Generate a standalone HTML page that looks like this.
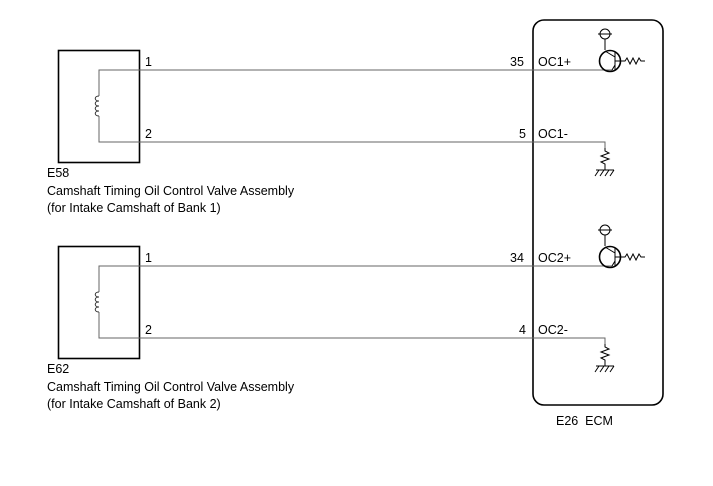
<!DOCTYPE html><html><head><style>body{margin:0;background:#fff}</style></head><body>
<svg width="713" height="481" xmlns="http://www.w3.org/2000/svg" font-family="Liberation Sans, sans-serif" font-size="12.5" fill="#000">
<rect x="533" y="20" width="130" height="385" rx="11" fill="none" stroke="#000" stroke-width="1.6"/>
<g id="g1">
<rect x="58.5" y="50.5" width="81" height="112" fill="none" stroke="#000" stroke-width="1.6"/>
<path d="M612 70H99V96M99 116V142H605V148" fill="none" stroke="#666" stroke-width="1"/>
<path d="M99 96c-5 0-5 5 0 5c-5 0-5 5 0 5c-5 0-5 5 0 5c-5 0-5 5 0 5" fill="none" stroke="#333" stroke-width="1"/>
<text x="145" y="66">1</text><text x="145" y="138">2</text>
<text x="510" y="66">35</text><text x="538" y="66">OC1+</text>
<text x="519" y="138">5</text><text x="538" y="138">OC1-</text>
<circle cx="605" cy="34" r="5" fill="none" stroke="#000"/><path d="M598 34H612M605 39V50" stroke="#000" fill="none"/>
<circle cx="610" cy="61" r="10.5" fill="none" stroke="#000" stroke-width="1.6"/>
<path d="M615 52V70M605 51L615 57M615 65L612 70M615 61H625l2-3 3 6 3-6 3 6 3-6 2 3h4" stroke="#000" fill="none"/>
<path d="M605 148v3l4 2-8 3 8 3-8 3 4 2v6M596 170h18M599 170l-4 6M604 170l-4 6M609 170l-4 6M614 170l-4 6" stroke="#000" fill="none"/>
<text x="47" y="177">E58</text>
<text x="47" y="195">Camshaft Timing Oil Control Valve Assembly</text>
<text x="47" y="212">(for Intake Camshaft of Bank 1)</text>
</g>
<g transform="translate(0,196)">
<rect x="58.5" y="50.5" width="81" height="112" fill="none" stroke="#000" stroke-width="1.6"/>
<path d="M612 70H99V96M99 116V142H605V148" fill="none" stroke="#666" stroke-width="1"/>
<path d="M99 96c-5 0-5 5 0 5c-5 0-5 5 0 5c-5 0-5 5 0 5c-5 0-5 5 0 5" fill="none" stroke="#333" stroke-width="1"/>
<text x="145" y="66">1</text><text x="145" y="138">2</text>
<text x="510" y="66">34</text><text x="538" y="66">OC2+</text>
<text x="519" y="138">4</text><text x="538" y="138">OC2-</text>
<circle cx="605" cy="34" r="5" fill="none" stroke="#000"/><path d="M598 34H612M605 39V50" stroke="#000" fill="none"/>
<circle cx="610" cy="61" r="10.5" fill="none" stroke="#000" stroke-width="1.6"/>
<path d="M615 52V70M605 51L615 57M615 65L612 70M615 61H625l2-3 3 6 3-6 3 6 3-6 2 3h4" stroke="#000" fill="none"/>
<path d="M605 148v3l4 2-8 3 8 3-8 3 4 2v6M596 170h18M599 170l-4 6M604 170l-4 6M609 170l-4 6M614 170l-4 6" stroke="#000" fill="none"/>
<text x="47" y="177">E62</text>
<text x="47" y="195">Camshaft Timing Oil Control Valve Assembly</text>
<text x="47" y="212">(for Intake Camshaft of Bank 2)</text>
</g>
<text x="556" y="425" xml:space="preserve">E26  ECM</text>
</svg>
</body></html>
